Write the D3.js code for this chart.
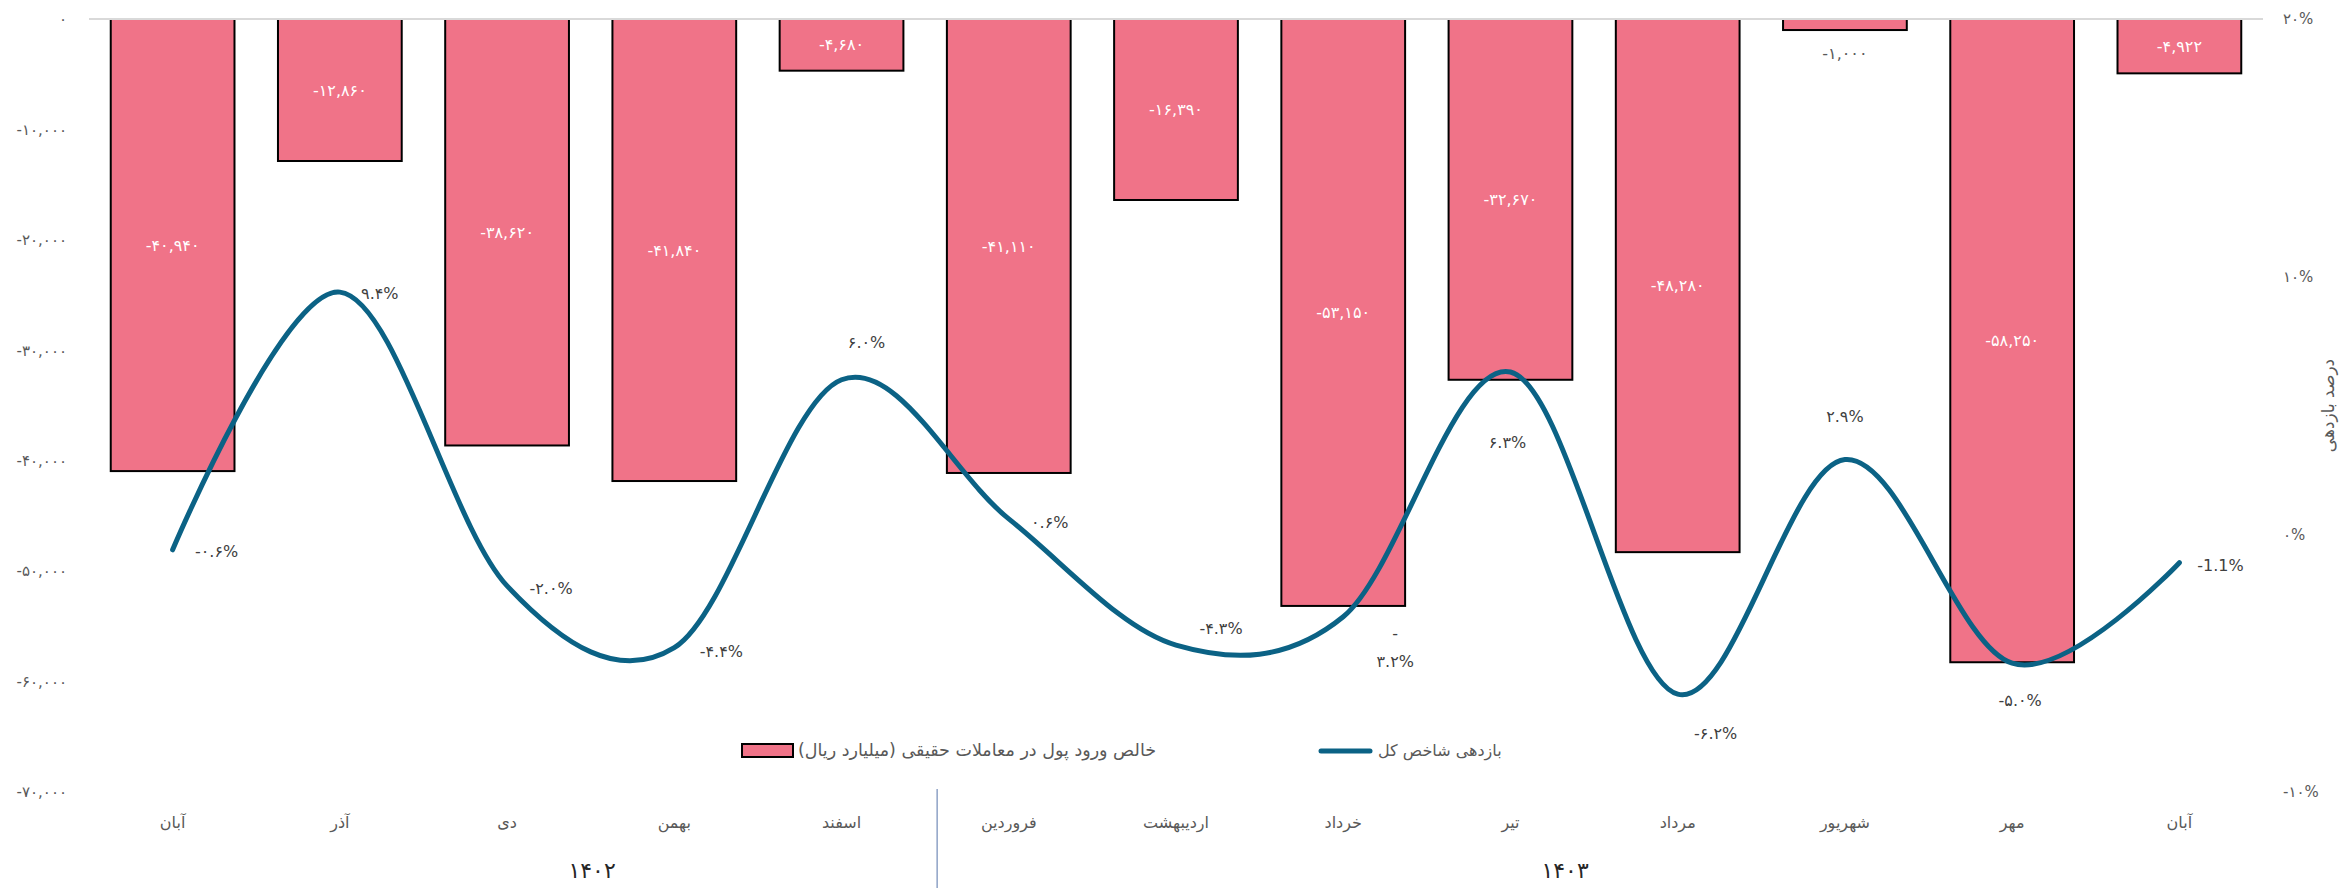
<!DOCTYPE html>
<html>
<head>
<meta charset="utf-8">
<script src="https://cdn.jsdelivr.net/npm/d3@7"></script>
<style>
  body { margin: 0; background: #fff; }
  text { font-family: "DejaVu Sans", sans-serif; }
</style>
</head>
<body>
<svg id="chart" width="2351" height="888"></svg>
<script>
const months = ["آبان", "آذر", "دی", "بهمن", "اسفند", "فروردین", "اردیبهشت", "خرداد", "تیر", "مرداد", "شهریور", "مهر", "آبان"];
const yearLabels = ["۱۴۰۲", "۱۴۰۳"];
const yearStart = [0, 5];
const yearEnd = [4, 12];
const netFlow = [-40940, -12860, -38620, -41840, -4680, -41110, -16390, -53150, -32670, -48280, -1000, -58250, -4922];
const indexReturn = [-0.006, 0.094, -0.020, -0.044, 0.060, 0.006, -0.043, -0.032, 0.063, -0.062, 0.029, -0.050, -0.011];
const leftTicks = [0, -10000, -20000, -30000, -40000, -50000, -60000, -70000];
const rightTicks = [0.2, 0.1, 0, -0.1];
const barName = "خالص ورود پول در معاملات حقیقی (میلیارد ریال)";
const lineName = "بازدهی شاخص کل";
const rightTitle = "درصد بازدهی";

// label nudges (px) for the return labels, as placed in the original
const labelDx = [44, 40, 44, 47, 25, 41, 45, 52, -3, 38, 0, 8, 41];
const labelDy = [2, 1, 3, 4, -37, 4, -17, 17, 70, 39, -43, 37, 3];

const svg = d3.select("#chart"),
  width = +svg.attr("width"),
  height = +svg.attr("height");

const plot = { left: 89, right: 2263, top: 19, bottom: 792 };
const pink = "#f07388", blue = "#0b6285", grey = "#595959";

// persian digits, plain hyphen for minus
const fa = (s) => s.replace(/\u2212/g, "-").replace(/\d/g, (c) => "۰۱۲۳۴۵۶۷۸۹"[+c]);
const en = (s) => s.replace(/\u2212/g, "-");

const x = d3.scaleBand()
  .domain(d3.range(months.length))
  .range([plot.left, plot.right])
  .paddingInner(0.26)
  .paddingOuter(0.13);

const yL = d3.scaleLinear().domain([-70000, 0]).range([plot.bottom, plot.top]);
const yR = d3.scaleLinear().domain([-0.1, 0.2]).range([plot.bottom, plot.top]);

// left axis labels
svg.append("g")
  .selectAll("text")
  .data(leftTicks)
  .join("text")
  .attr("x", 67)
  .attr("y", (d) => yL(d))
  .attr("dy", "0.35em")
  .attr("text-anchor", "end")
  .attr("fill", grey)
  .attr("font-size", "15px")
  .text((d) => fa(d3.format(",")(d)));

// right axis labels
svg.append("g")
  .selectAll("text")
  .data(rightTicks)
  .join("text")
  .attr("x", 2283)
  .attr("y", (d) => yR(d))
  .attr("dy", "0.35em")
  .attr("fill", grey)
  .attr("font-size", "15px")
  .text((d) => fa(d3.format(".0%")(d)));

svg.append("text")
  .attr("transform", `translate(2334,${(plot.top + plot.bottom) / 2}) rotate(-90)`)
  .attr("text-anchor", "middle")
  .attr("fill", grey)
  .attr("font-size", "17px")
  .text(rightTitle);

// bars
svg.append("g")
  .selectAll("rect")
  .data(netFlow)
  .join("rect")
  .attr("x", (d, i) => x(i))
  .attr("y", yL(0))
  .attr("width", x.bandwidth())
  .attr("height", (d) => yL(d) - yL(0))
  .attr("fill", pink)
  .attr("stroke", "#000")
  .attr("stroke-width", 2);

// zero line
svg.append("line")
  .attr("x1", plot.left)
  .attr("x2", plot.right)
  .attr("y1", yL(0))
  .attr("y2", yL(0))
  .attr("stroke", "#d9d9d9")
  .attr("stroke-width", 2);

// bar labels
svg.append("g")
  .selectAll("text")
  .data(netFlow)
  .join("text")
  .attr("x", (d, i) => x(i) + x.bandwidth() / 2)
  .attr("y", (d) => {
    const h = yL(d) - yL(0);
    return h < 30 ? yL(d) + 23 : yL(0) + h / 2;
  })
  .attr("dy", "0.35em")
  .attr("text-anchor", "middle")
  .attr("fill", (d) => (yL(d) - yL(0) < 30 ? grey : "#fff"))
  .attr("font-size", "16px")
  .text((d) => fa(d3.format(",")(d)));

// return line
const line = d3.line()
  .x((d, i) => x(i) + x.bandwidth() / 2)
  .y((d) => yR(d))
  .curve(d3.curveCardinal.tension(0));

svg.append("path")
  .datum(indexReturn)
  .attr("d", line)
  .attr("fill", "none")
  .attr("stroke", blue)
  .attr("stroke-width", 5)
  .attr("stroke-linecap", "round");

// return labels
const lbl = svg.append("g")
  .selectAll("text")
  .data(indexReturn)
  .join("text")
  .attr("x", (d, i) => x(i) + x.bandwidth() / 2 + labelDx[i])
  .attr("y", (d, i) => yR(d) + labelDy[i])
  .attr("dy", "0.35em")
  .attr("text-anchor", "middle")
  .attr("fill", "#404040")
  .attr("font-size", "16px");

lbl.each(function (d, i) {
  // last label is in latin digits in the original
  const s = i === indexReturn.length - 1 ? en(d3.format(".1%")(d)) : fa(d3.format(".1%")(d));
  const t = d3.select(this);
  // خرداد label wraps in the original: minus on its own line
  if (i === 7) {
    t.append("tspan").attr("x", t.attr("x")).text("-");
    t.append("tspan").attr("x", t.attr("x")).attr("dy", "1.7em").text(s.slice(1));
  } else {
    t.text(s);
  }
});

// legend
const leg = svg.append("g");
leg.append("rect")
  .attr("x", 742).attr("y", 744)
  .attr("width", 51).attr("height", 13)
  .attr("fill", pink).attr("stroke", "#000").attr("stroke-width", 2);
leg.append("text")
  .attr("x", 798).attr("y", 750).attr("dy", "0.35em")
  .attr("fill", grey).attr("font-size", "17.5px")
  .text(barName);
leg.append("line")
  .attr("x1", 1321).attr("x2", 1370).attr("y1", 751).attr("y2", 751)
  .attr("stroke", blue).attr("stroke-width", 5).attr("stroke-linecap", "round");
leg.append("text")
  .attr("x", 1378).attr("y", 750).attr("dy", "0.35em")
  .attr("fill", grey).attr("font-size", "16px")
  .text(lineName);

// category axis
svg.append("g")
  .selectAll("text")
  .data(months)
  .join("text")
  .attr("x", (d, i) => x(i) + x.bandwidth() / 2)
  .attr("y", 822)
  .attr("dy", "0.35em")
  .attr("text-anchor", "middle")
  .attr("fill", grey)
  .attr("font-size", "16px")
  .text((d) => d);

const yearOffset = [85, -29];
svg.append("g")
  .selectAll("text")
  .data(yearLabels)
  .join("text")
  .attr("x", (d, i) => (x(yearStart[i]) + x(yearEnd[i]) + x.bandwidth()) / 2 + yearOffset[i])
  .attr("y", 870)
  .attr("dy", "0.35em")
  .attr("text-anchor", "middle")
  .attr("fill", "#262626")
  .attr("font-size", "22px")
  .text((d) => d);

const sepX = x(yearStart[1]) - (x.step() - x.bandwidth()) / 2 + 12;
svg.append("line")
  .attr("x1", sepX).attr("x2", sepX)
  .attr("y1", 789).attr("y2", height)
  .attr("stroke", "#8ea2c6")
  .attr("stroke-width", 1.5);
</script>
</body>
</html>
